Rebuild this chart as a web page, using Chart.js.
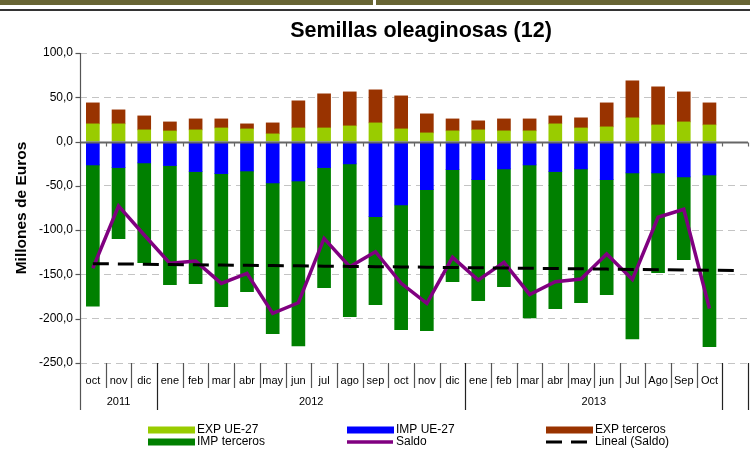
<!DOCTYPE html>
<html>
<head>
<meta charset="utf-8">
<script src="https://cdn.jsdelivr.net/npm/chart.js@4"></script>
<style>
  html, body { margin: 0; padding: 0; background: #fff; }
  #wrap { position: relative; width: 750px; height: 452px; overflow: hidden; }
  #c { position: absolute; left: 0; top: 0; }
  .band { position: absolute; left: 0; top: 0; width: 750px; height: 5px; background: #686534; }
  .gap { position: absolute; left: 373px; top: 0; width: 3px; height: 5px; background: #fff; }
  .rule { position: absolute; left: 0; top: 9px; width: 750px; height: 2px; background: #333; }
</style>
</head>
<body>
<div id="wrap">
  <canvas id="c" width="750" height="452"></canvas>
  <div class="band"></div><div class="gap"></div><div class="rule"></div>
</div>
<script>
// Monthly trade in oilseeds, millions of euros (Oct 2011 - Oct 2013)
const months = ['oct','nov','dic','ene','feb','mar','abr','may','jun','jul','ago','sep',
                'oct','nov','dic','ene','feb','mar','abr','may','jun','Jul','Ago','Sep','Oct',''];
const years = [
  { label: '2011', from: 0,  to: 3 },
  { label: '2012', from: 3,  to: 15 },
  { label: '2013', from: 15, to: 25 }
];
const expUE = [20, 20, 13.2, 12, 13.2, 15.4, 14.3, 8.7, 15.4, 15.4, 17.7, 21.1, 14.3,
               9.8, 12.1, 13.2, 12.1, 12.1, 20, 15.4, 16.6, 26.8, 18.8, 22.2, 18.8];
const expTerceros = [23.7, 15.8, 15.8, 10.2, 12.4, 10.2, 5.7, 12.4, 30.6, 38.5, 38.4, 37.3, 37.3,
                     21.5, 13.5, 10.2, 13.5, 13.5, 9, 11.4, 27.1, 41.8, 43, 33.9, 24.9];
const impUE = [-26.4, -29.4, -24.1, -27.1, -33.9, -36.2, -33.2, -46.7, -44.5, -29.4, -25.2, -84.8, -71.6,
               -54.3, -31.7, -43, -30.9, -26.4, -33.9, -30.9, -43, -35.4, -35.4, -39.9, -37.7];
const impTerceros = [-159.4, -80.2, -112.7, -134.5, -126.6, -150.3, -136.4, -170.3, -186.1, -135.6, -172.6, -99.4, -140.9,
                     -159.3, -126.6, -136.7, -133, -172.6, -154.9, -151.1, -129.9, -187.3, -112.7, -93.5, -194];
const saldo = [-143, -72.7, -105.5, -137.5, -134.9, -160.1, -148.8, -194, -182, -109.3, -141.3, -124.3, -160,
               -182.7, -130.7, -156.4, -136.4, -172.6, -158.3, -155.2, -127, -155.6, -85.5, -76.5, -188.4];
const yTicks = [100, 50, 0, -50, -100, -150, -200, -250];

// Least-squares trend of the balance, extended over every category slot
function linearTrend(values, length) {
  const n = values.length;
  let sx = 0, sy = 0, sxx = 0, sxy = 0;
  values.forEach((v, i) => { sx += i; sy += v; sxx += i * i; sxy += i * v; });
  const b = (n * sxy - sx * sy) / (n * sxx - sx * sx);
  const a = (sy - b * sx) / n;
  return Array.from({ length }, (_, i) => a + b * i);
}
const lineal = linearTrend(saldo, months.length);

const FONT = '"Liberation Sans", Arial, sans-serif';
const fmt = v => v.toFixed(1).replace('.', ',');

const decor = {
  id: 'decor',
  afterDraw(chart) {
    const { ctx, chartArea: ca, scales: { x, y } } = chart;
    const step = x.getPixelForValue(1) - x.getPixelForValue(0);
    const edge = i => x.getPixelForValue(i) - step / 2;
    ctx.save();

    // zero axis with small ticks at category edges
    const y0 = Math.round(y.getPixelForValue(0)) + 0.5;
    ctx.strokeStyle = '#666';
    ctx.lineWidth = 1.8;
    ctx.beginPath(); ctx.moveTo(ca.left, y0); ctx.lineTo(ca.right, y0); ctx.stroke();
    ctx.lineWidth = 1.2;
    for (let i = 1; i <= months.length; i++) {
      const px = Math.round(edge(i)) + 0.5;
      ctx.beginPath(); ctx.moveTo(px, y0); ctx.lineTo(px, y0 + 4); ctx.stroke();
    }

    // value axis and its tick marks
    ctx.strokeStyle = '#555';
    ctx.lineWidth = 1.2;
    const ax = Math.round(ca.left) + 0.5;
    ctx.beginPath(); ctx.moveTo(ax, ca.top); ctx.lineTo(ax, ca.bottom + 47); ctx.stroke();
    yTicks.forEach(v => {
      const py = Math.round(y.getPixelForValue(v)) + 0.5;
      ctx.beginPath(); ctx.moveTo(ax - 5, py); ctx.lineTo(ax, py); ctx.stroke();
    });

    // category separators: short between months, long at year limits
    const yearEdges = new Set();
    years.forEach(g => { yearEdges.add(g.from); yearEdges.add(g.to); });
    yearEdges.add(months.length);
    for (let i = 1; i <= months.length; i++) {
      const px = Math.round(edge(i)) + 0.5;
      const long = yearEdges.has(i);
      ctx.strokeStyle = long ? '#222' : '#555';
      ctx.beginPath(); ctx.moveTo(px, ca.bottom); ctx.lineTo(px, ca.bottom + (long ? 47 : 25)); ctx.stroke();
    }

    // month and year labels
    ctx.fillStyle = '#000';
    ctx.textAlign = 'center';
    ctx.textBaseline = 'middle';
    ctx.font = '11px ' + FONT;
    months.forEach((m, i) => { if (m) ctx.fillText(m, x.getPixelForValue(i), ca.bottom + 18); });
    years.forEach(g => ctx.fillText(g.label, (edge(g.from) + edge(g.to)) / 2, ca.bottom + 39));

    // title
    ctx.font = 'bold 21.5px ' + FONT;
    ctx.fillText('Semillas oleaginosas (12)', 421, 31);

    // value axis title
    ctx.save();
    ctx.translate(22, (ca.top + ca.bottom) / 2);
    ctx.rotate(-Math.PI / 2);
    ctx.font = 'bold 15.5px ' + FONT;
    ctx.fillText('Millones de Euros', 0, 0);
    ctx.restore();

    // legend in three columns, two rows
    const cols = [148, 347, 546];
    const rows = [430, 442];
    ctx.textAlign = 'left';
    ctx.font = '12px ' + FONT;
    chart.data.datasets.forEach((ds, k) => {
      const cx = cols[k % 3], cy = rows[Math.floor(k / 3)];
      if (ds.type === 'line') {
        ctx.strokeStyle = ds.borderColor;
        ctx.lineWidth = ds.borderWidth;
        ctx.setLineDash(ds.borderDash || []);
        ctx.beginPath(); ctx.moveTo(cx, cy); ctx.lineTo(cx + 46, cy); ctx.stroke();
        ctx.setLineDash([]);
      } else {
        ctx.fillStyle = ds.backgroundColor;
        ctx.fillRect(cx, cy - 3.5, 47, 7);
      }
      ctx.fillStyle = '#000';
      ctx.fillText(ds.label, cx + 49, cy);
    });
    ctx.restore();
  }
};

new Chart(document.getElementById('c'), {
  data: {
    labels: months,
    datasets: [
      { type: 'bar', label: 'EXP UE-27', data: expUE, backgroundColor: '#99CC00', order: 3 },
      { type: 'bar', label: 'IMP UE-27', data: impUE, backgroundColor: '#0000FF', order: 3 },
      { type: 'bar', label: 'EXP terceros', data: expTerceros, backgroundColor: '#993300', order: 3 },
      { type: 'bar', label: 'IMP terceros', data: impTerceros, backgroundColor: '#008000', order: 3 },
      { type: 'line', label: 'Saldo', data: saldo, stack: 'saldo', borderColor: '#800080',
        borderWidth: 3.5, pointRadius: 0, tension: 0, order: 2 },
      { type: 'line', label: 'Lineal (Saldo)', data: lineal, stack: 'trend', borderColor: '#000',
        borderWidth: 3, borderDash: [16, 9], pointRadius: 0, tension: 0, order: 1 }
    ]
  },
  options: {
    responsive: false,
    animation: false,
    layout: { padding: { top: 53, right: 2, left: 0, bottom: 0 } },
    datasets: { bar: { barThickness: 13 } },
    plugins: { legend: { display: false }, title: { display: false }, tooltip: { enabled: false } },
    scales: {
      x: {
        stacked: true,
        offset: true,
        grid: { display: false },
        border: { display: false },
        ticks: { display: false },
        afterFit: s => { s.height = 89; }
      },
      y: {
        stacked: true,
        min: -250, max: 100,
        afterBuildTicks: s => { s.ticks = yTicks.map(v => ({ value: v })); },
        grid: {
          drawTicks: false,
          color: c => (c.tick && c.tick.value === 0) ? 'rgba(0,0,0,0)' : '#C4C4C4',
          lineWidth: 1
        },
        border: { display: false, dash: [7, 5] },
        ticks: { padding: 7, color: '#000', font: { family: FONT, size: 12 }, callback: v => fmt(v) },
        afterFit: s => { s.width = 80; }
      }
    }
  },
  plugins: [decor]
});
</script>
</body>
</html>
